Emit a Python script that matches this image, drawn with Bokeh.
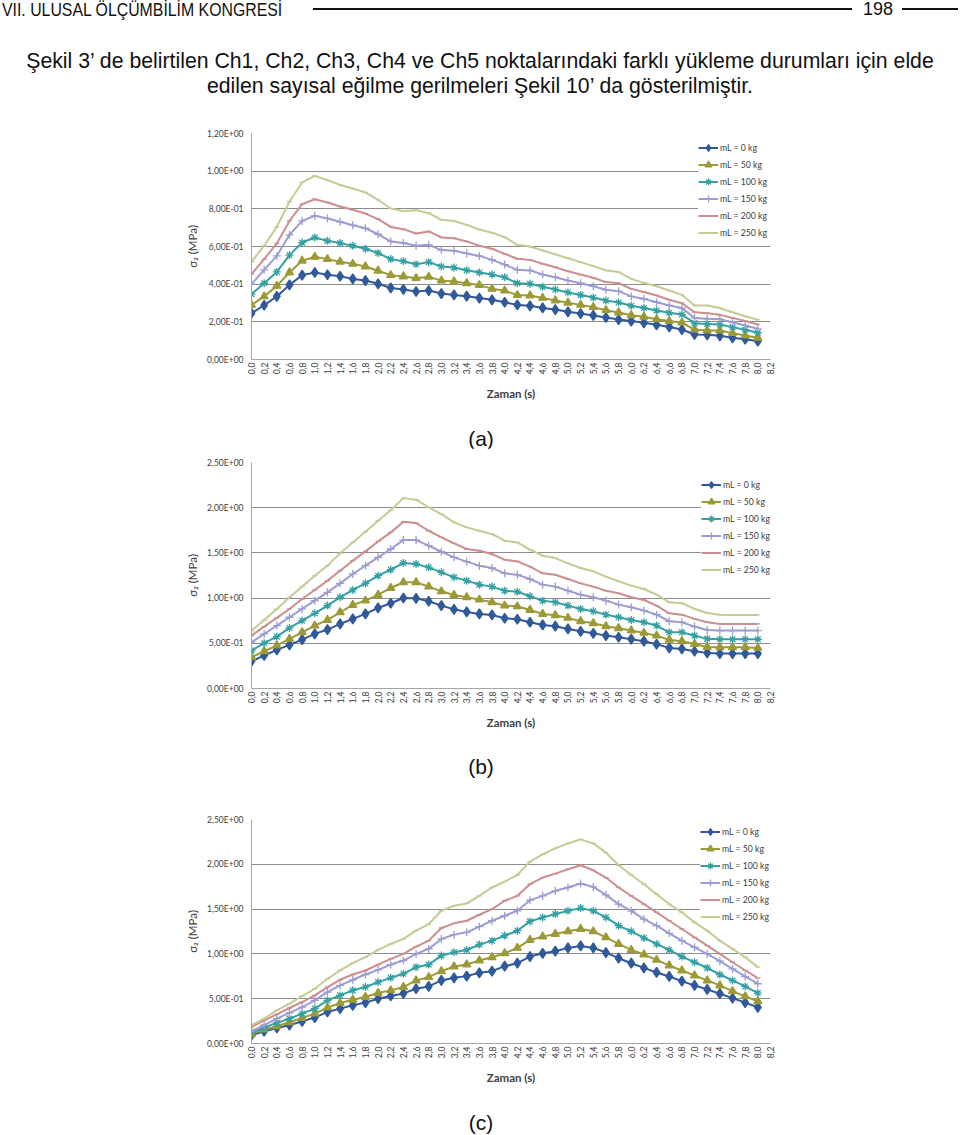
import numpy as np
from bokeh.plotting import figure
from bokeh.models import (Div, Range1d, FixedTicker, CustomJSTickFormatter,
                          Legend, LegendItem)
from bokeh.layouts import column
from bokeh.embed import file_html
from bokeh.resources import INLINE

# ---------------- data ----------------
time = [0.0, 0.2, 0.4, 0.6, 0.8, 1.0, 1.2, 1.4, 1.6, 1.8, 2.0, 2.2, 2.4, 2.6, 2.8,
        3.0, 3.2, 3.4, 3.6, 3.8, 4.0, 4.2, 4.4, 4.6, 4.8, 5.0, 5.2, 5.4, 5.6, 5.8,
        6.0, 6.2, 6.4, 6.6, 6.8, 7.0, 7.2, 7.4, 7.6, 7.8, 8.0]

x_ticks = [0.0, 0.2, 0.4, 0.6, 0.8, 1.0, 1.2, 1.4, 1.6, 1.8, 2.0, 2.2, 2.4, 2.6, 2.8,
           3.0, 3.2, 3.4, 3.6, 3.8, 4.0, 4.2, 4.4, 4.6, 4.8, 5.0, 5.2, 5.4, 5.6, 5.8,
           6.0, 6.2, 6.4, 6.6, 6.8, 7.0, 7.2, 7.4, 7.6, 7.8, 8.0, 8.2]
x_tick_labels = ["0,0", "0,2", "0,4", "0,6", "0,8", "1,0", "1,2", "1,4", "1,6", "1,8",
                 "2,0", "2,2", "2,4", "2,6", "2,8", "3,0", "3,2", "3,4", "3,6", "3,8",
                 "4,0", "4,2", "4,4", "4,6", "4,8", "5,0", "5,2", "5,4", "5,6", "5,8",
                 "6,0", "6,2", "6,4", "6,6", "6,8", "7,0", "7,2", "7,4", "7,6", "7,8",
                 "8,0", "8,2"]

y_ticks_a = [0.0, 0.2, 0.4, 0.6, 0.8, 1.0, 1.2]
y_tick_labels_a = ["0,00E+00", "2,00E-01", "4,00E-01", "6,00E-01", "8,00E-01",
                   "1,00E+00", "1,20E+00"]
y_ticks_bc = [0.0, 0.5, 1.0, 1.5, 2.0, 2.5]
y_tick_labels_bc = ["0,00E+00", "5,00E-01", "1,00E+00", "1,50E+00", "2,00E+00",
                    "2,50E+00"]

series_names = ["mL = 0 kg", "mL = 50 kg", "mL = 100 kg", "mL = 150 kg",
                "mL = 200 kg", "mL = 250 kg"]

# chart (a)
a_0 = [0.246, 0.288, 0.335, 0.396, 0.448, 0.462, 0.450, 0.442, 0.428, 0.419, 0.402,
       0.380, 0.372, 0.361, 0.366, 0.350, 0.343, 0.336, 0.326, 0.317, 0.304, 0.290,
       0.285, 0.274, 0.265, 0.253, 0.244, 0.234, 0.223, 0.212, 0.204, 0.195, 0.184,
       0.173, 0.159, 0.133, 0.131, 0.126, 0.115, 0.108, 0.097]
a_50 = [0.290, 0.335, 0.391, 0.462, 0.524, 0.545, 0.533, 0.519, 0.508, 0.494, 0.471,
        0.448, 0.441, 0.432, 0.439, 0.419, 0.414, 0.405, 0.395, 0.375, 0.366, 0.342,
        0.340, 0.327, 0.313, 0.301, 0.290, 0.278, 0.262, 0.250, 0.235, 0.227, 0.214,
        0.204, 0.196, 0.159, 0.154, 0.154, 0.140, 0.127, 0.115]
a_100 = [0.347, 0.405, 0.465, 0.554, 0.621, 0.648, 0.630, 0.618, 0.604, 0.588, 0.565,
         0.533, 0.522, 0.506, 0.517, 0.494, 0.488, 0.474, 0.462, 0.451, 0.437, 0.405,
         0.402, 0.386, 0.372, 0.356, 0.343, 0.329, 0.313, 0.303, 0.285, 0.273, 0.260,
         0.248, 0.239, 0.193, 0.189, 0.186, 0.172, 0.158, 0.142]
a_150 = [0.400, 0.476, 0.550, 0.662, 0.736, 0.763, 0.749, 0.731, 0.713, 0.697, 0.665,
         0.627, 0.619, 0.604, 0.609, 0.581, 0.577, 0.563, 0.550, 0.529, 0.504, 0.476,
         0.473, 0.451, 0.437, 0.419, 0.405, 0.389, 0.370, 0.363, 0.335, 0.322, 0.304,
         0.287, 0.273, 0.221, 0.216, 0.214, 0.198, 0.181, 0.163]
a_200 = [0.453, 0.533, 0.616, 0.736, 0.825, 0.851, 0.834, 0.812, 0.795, 0.775, 0.745,
         0.704, 0.692, 0.669, 0.680, 0.648, 0.644, 0.627, 0.604, 0.588, 0.561, 0.535,
         0.529, 0.508, 0.490, 0.469, 0.451, 0.434, 0.411, 0.405, 0.375, 0.358, 0.340,
         0.317, 0.299, 0.251, 0.246, 0.237, 0.221, 0.204, 0.186]
a_250 = [0.519, 0.604, 0.704, 0.839, 0.940, 0.975, 0.952, 0.927, 0.908, 0.887, 0.848,
         0.802, 0.789, 0.793, 0.777, 0.742, 0.735, 0.715, 0.690, 0.673, 0.650, 0.609,
         0.600, 0.579, 0.558, 0.538, 0.517, 0.496, 0.473, 0.464, 0.428, 0.407, 0.389,
         0.366, 0.343, 0.287, 0.287, 0.273, 0.251, 0.230, 0.211]

# chart (b)
b_0 = [0.302, 0.365, 0.427, 0.482, 0.541, 0.604, 0.652, 0.714, 0.770, 0.825, 0.891,
       0.943, 1.001, 0.998, 0.965, 0.917, 0.876, 0.847, 0.825, 0.814, 0.777, 0.766,
       0.733, 0.703, 0.689, 0.659, 0.633, 0.611, 0.585, 0.567, 0.545, 0.523, 0.490,
       0.449, 0.438, 0.412, 0.394, 0.387, 0.387, 0.387, 0.387]
b_50 = [0.346, 0.412, 0.475, 0.549, 0.622, 0.696, 0.758, 0.843, 0.924, 0.972, 1.035,
        1.112, 1.175, 1.175, 1.127, 1.075, 1.035, 1.009, 0.983, 0.954, 0.917, 0.909,
        0.869, 0.825, 0.810, 0.781, 0.744, 0.722, 0.689, 0.666, 0.641, 0.615, 0.585,
        0.538, 0.523, 0.493, 0.460, 0.457, 0.457, 0.457, 0.449]
b_100 = [0.420, 0.501, 0.574, 0.670, 0.751, 0.832, 0.917, 1.009, 1.090, 1.163, 1.248,
         1.314, 1.388, 1.377, 1.340, 1.285, 1.230, 1.193, 1.149, 1.127, 1.082, 1.071,
         1.020, 0.972, 0.954, 0.917, 0.880, 0.854, 0.817, 0.788, 0.758, 0.733, 0.696,
         0.622, 0.622, 0.585, 0.549, 0.545, 0.545, 0.545, 0.545]
b_150 = [0.512, 0.604, 0.696, 0.788, 0.880, 0.972, 1.064, 1.163, 1.267, 1.359, 1.451,
         1.543, 1.642, 1.642, 1.580, 1.513, 1.451, 1.403, 1.359, 1.333, 1.274, 1.259,
         1.211, 1.149, 1.127, 1.082, 1.038, 1.009, 0.972, 0.928, 0.898, 0.862, 0.817,
         0.744, 0.733, 0.685, 0.648, 0.641, 0.641, 0.641, 0.641]
b_200 = [0.585, 0.685, 0.781, 0.880, 0.990, 1.090, 1.193, 1.303, 1.414, 1.517, 1.627,
         1.727, 1.845, 1.830, 1.745, 1.672, 1.605, 1.543, 1.524, 1.487, 1.425, 1.406,
         1.348, 1.274, 1.259, 1.211, 1.163, 1.127, 1.082, 1.053, 1.009, 0.979, 0.917,
         0.832, 0.817, 0.770, 0.733, 0.714, 0.714, 0.714, 0.714]
b_250 = [0.641, 0.758, 0.880, 1.009, 1.127, 1.248, 1.359, 1.495, 1.616, 1.734, 1.856,
         1.973, 2.106, 2.088, 2.003, 1.929, 1.837, 1.782, 1.745, 1.708, 1.635, 1.616,
         1.535, 1.469, 1.443, 1.384, 1.333, 1.296, 1.237, 1.186, 1.138, 1.101, 1.038,
         0.954, 0.943, 0.880, 0.836, 0.817, 0.814, 0.814, 0.814]

# chart (c)
c_0 = [0.093, 0.137, 0.174, 0.204, 0.248, 0.289, 0.352, 0.389, 0.426, 0.456, 0.500,
       0.530, 0.559, 0.611, 0.637, 0.704, 0.733, 0.752, 0.789, 0.807, 0.863, 0.896,
       0.970, 1.007, 1.030, 1.067, 1.089, 1.067, 1.015, 0.952, 0.896, 0.844, 0.793,
       0.748, 0.696, 0.648, 0.604, 0.556, 0.507, 0.456, 0.404]
c_50 = [0.104, 0.156, 0.193, 0.237, 0.285, 0.333, 0.400, 0.452, 0.489, 0.519, 0.563,
        0.593, 0.630, 0.704, 0.741, 0.807, 0.859, 0.881, 0.926, 0.963, 1.007, 1.067,
        1.156, 1.193, 1.222, 1.252, 1.278, 1.252, 1.185, 1.111, 1.044, 0.993, 0.933,
        0.870, 0.815, 0.759, 0.704, 0.648, 0.585, 0.526, 0.470]
c_100 = [0.122, 0.178, 0.230, 0.278, 0.333, 0.389, 0.481, 0.537, 0.593, 0.630, 0.685,
         0.733, 0.778, 0.852, 0.881, 0.981, 1.019, 1.044, 1.104, 1.148, 1.204, 1.259,
         1.363, 1.407, 1.444, 1.481, 1.511, 1.481, 1.407, 1.315, 1.252, 1.178, 1.111,
         1.044, 0.970, 0.907, 0.844, 0.770, 0.704, 0.637, 0.563]
c_150 = [0.137, 0.204, 0.278, 0.341, 0.407, 0.481, 0.574, 0.648, 0.711, 0.770, 0.822,
         0.881, 0.926, 1.000, 1.056, 1.167, 1.215, 1.241, 1.304, 1.370, 1.426, 1.481,
         1.600, 1.648, 1.704, 1.741, 1.785, 1.748, 1.659, 1.556, 1.481, 1.389, 1.315,
         1.230, 1.148, 1.074, 1.000, 0.919, 0.833, 0.748, 0.667]
c_200 = [0.185, 0.259, 0.326, 0.396, 0.463, 0.537, 0.630, 0.711, 0.770, 0.815, 0.881,
         0.944, 1.000, 1.081, 1.148, 1.289, 1.341, 1.370, 1.437, 1.500, 1.593, 1.648,
         1.778, 1.852, 1.896, 1.944, 1.989, 1.933, 1.852, 1.741, 1.648, 1.556, 1.463,
         1.370, 1.278, 1.185, 1.093, 1.000, 0.907, 0.815, 0.730]
c_250 = [0.204, 0.278, 0.370, 0.444, 0.530, 0.611, 0.722, 0.815, 0.896, 0.963, 1.044,
         1.111, 1.167, 1.259, 1.333, 1.481, 1.537, 1.563, 1.648, 1.741, 1.807, 1.881,
         2.030, 2.111, 2.178, 2.233, 2.278, 2.233, 2.130, 1.989, 1.881, 1.778, 1.667,
         1.556, 1.463, 1.352, 1.259, 1.148, 1.056, 0.963, 0.852]

# ---------------- styles ----------------
COLORS = ["#31599A", "#9C9A36", "#35A0A3", "#9C9CD2", "#CC8E8E", "#C6CB93"]
MARKERS = ["diamond", "triangle", "asterisk", "cross", "dash", "dash"]
MSIZES = [10, 8, 8, 8, 5, 5]
CHART_FONT = "Lato"
TXT = "#404040"
W = 960


def lookup_formatter(ticks, labels):
    return CustomJSTickFormatter(args=dict(t=ticks, l=labels), code="""
        for (let i = 0; i < t.length; i++) {
            if (Math.abs(t[i] - tick) < 1e-6) { return l[i]; }
        }
        return '';
    """)


def make_chart(series, y_end, y_ticks, y_labels, height, bl, br, bt, bb, leg_xy):
    p = figure(width=W, height=height, output_backend="svg", toolbar_location=None,
               x_range=Range1d(0, 8.2), y_range=Range1d(0, y_end),
               min_border_left=bl, min_border_right=br,
               min_border_top=bt, min_border_bottom=bb, margin=(0, 0, 0, 0))
    p.outline_line_color = None
    p.background_fill_color = "white"
    p.border_fill_color = "white"

    items = []
    for name, ys, col, mk, ms in zip(series_names, series, COLORS, MARKERS, MSIZES):
        rl = p.line(time, ys, line_color=col, line_width=2)
        rm = p.scatter(time, ys, marker=mk, size=ms, line_color=col,
                       fill_color=col, line_width=1.3)
        items.append(LegendItem(label=name, renderers=[rl, rm]))

    # axes
    xa = p.xaxis[0]
    xa.ticker = FixedTicker(ticks=x_ticks)
    xa.formatter = lookup_formatter(x_ticks, x_tick_labels)
    xa.major_label_orientation = np.pi / 2
    xa.major_tick_line_color = None
    xa.minor_tick_line_color = None
    xa.major_tick_out = 0
    xa.major_tick_in = 0
    xa.major_label_standoff = 3
    xa.major_label_text_font = CHART_FONT
    xa.major_label_text_font_size = "8.5px"
    xa.major_label_text_color = TXT
    xa.axis_line_color = "#A6A6A6"
    xa.axis_line_width = 1
    xa.axis_label = "Zaman (s)"
    xa.axis_label_text_font = CHART_FONT
    xa.axis_label_text_font_size = "11.5px"
    xa.axis_label_text_font_style = "bold"
    xa.axis_label_text_color = TXT
    xa.axis_label_standoff = 10

    ya = p.yaxis[0]
    ya.ticker = FixedTicker(ticks=y_ticks)
    ya.formatter = lookup_formatter(y_ticks, y_labels)
    ya.major_tick_line_color = None
    ya.minor_tick_line_color = None
    ya.major_tick_out = 0
    ya.major_tick_in = 0
    ya.major_label_standoff = 8
    ya.major_label_text_font = CHART_FONT
    ya.major_label_text_font_size = "8.5px"
    ya.major_label_text_color = TXT
    ya.axis_line_color = "#A6A6A6"
    ya.axis_line_width = 1
    ya.axis_label = "σ₂ (MPa)"
    ya.axis_label_text_font = CHART_FONT
    ya.axis_label_text_font_size = "11.5px"
    ya.axis_label_text_font_style = "normal"
    ya.axis_label_text_color = TXT
    ya.axis_label_standoff = 5

    p.xgrid.grid_line_color = None
    p.ygrid.ticker = FixedTicker(ticks=y_ticks)
    p.ygrid.grid_line_color = "#8C8C8C"
    p.ygrid.grid_line_width = 1

    leg = Legend(items=items, location=leg_xy, margin=0, padding=2, spacing=0,
                 glyph_width=20, glyph_height=17, label_height=17, label_standoff=2,
                 label_width=52,
                 label_text_font=CHART_FONT, label_text_font_size="8.7px",
                 label_text_color=TXT, background_fill_color="white",
                 background_fill_alpha=1.0, border_line_color=None)
    p.add_layout(leg)
    return p


PFONT = "'Liberation Sans', Arial, sans-serif"

# page origin is (0,0); all inner coordinates below are page pixels
header_html = f"""
<div style="position:relative;width:{W}px;height:32px;font-family:{PFONT};color:#111;">
  <span style="position:absolute;left:2px;top:1px;font-size:18px;line-height:18px;
    white-space:nowrap;transform:scaleX(0.88);transform-origin:0 0;">VII. ULUSAL ÖLÇÜMBİLİM KONGRESİ</span>
  <div style="position:absolute;left:313px;top:8px;width:539px;height:2px;background:#111;"></div>
  <span style="position:absolute;left:863px;top:0px;font-size:18px;line-height:18px;">198</span>
  <div style="position:absolute;left:902px;top:8px;width:56px;height:2px;background:#111;"></div>
</div>"""

para_html = f"""
<div style="position:relative;width:{W}px;height:86px;font-family:{PFONT};color:#111;">
  <div style="position:absolute;left:0;top:17px;width:{W}px;text-align:center;
    font-size:21.25px;line-height:25px;white-space:nowrap;">Şekil 3’ de belirtilen Ch1, Ch2, Ch3, Ch4 ve Ch5 noktalarındaki farklı yükleme durumları için elde<br>edilen sayısal eğilme gerilmeleri Şekil 10’ da gösterilmiştir.</div>
</div>"""


def caption_html(txt, h, top):
    return f"""
<div style="position:relative;width:{W}px;height:{h}px;font-family:{PFONT};color:#111;">
  <div style="position:absolute;left:1px;top:{top}px;width:{W}px;text-align:center;
    font-size:21px;line-height:21px;">{txt}</div>
</div>"""


header = Div(text=header_html, width=W, height=32, margin=(0, 0, 0, 0))
para = Div(text=para_html, width=W, height=86, margin=(0, 0, 0, 0))

fig_a = make_chart([a_0, a_50, a_100, a_150, a_200, a_250], 1.2, y_ticks_a,
                   y_tick_labels_a, 290, 251, 190, 15, 49, (447, 118))
cap_a = Div(text=caption_html("(a)", 40, 20), width=W, height=40, margin=(0, 0, 0, 0))
fig_b = make_chart([b_0, b_50, b_100, b_150, b_200, b_250], 2.5, y_ticks_bc,
                   y_tick_labels_bc, 289, 246, 189, 14, 49, (450, 110))
cap_b = Div(text=caption_html("(b)", 68, 19), width=W, height=68, margin=(0, 0, 0, 0))
fig_c = make_chart([c_0, c_50, c_100, c_150, c_200, c_250], 2.5, y_ticks_bc,
                   y_tick_labels_bc, 287, 247, 190, 14, 49, (449, 118))
cap_c = Div(text=caption_html("(c)", 40, 20), width=W, height=40, margin=(0, 0, 0, 0))

page = column(header, para, fig_a, cap_a, fig_b, cap_b, fig_c, cap_c, spacing=0)

open("out.html", "w").write(file_html(page, INLINE))
